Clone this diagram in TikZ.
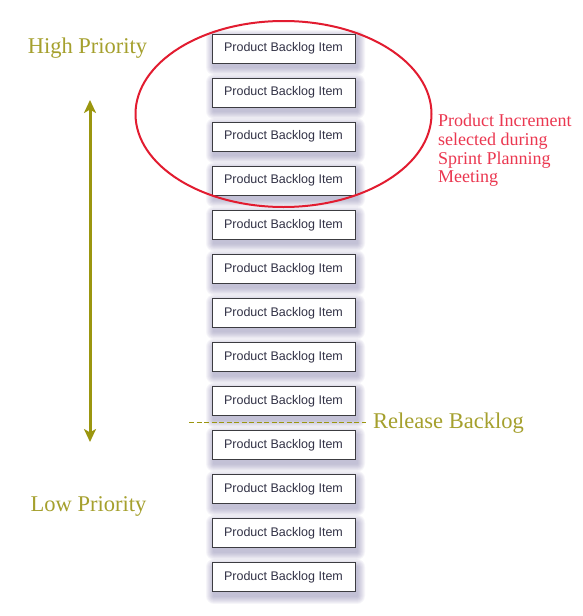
\documentclass[tikz,border=0pt]{standalone}
\usepackage{fontspec}
\setmainfont{Liberation Serif}
\newfontfamily\boxfont{Liberation Sans}
\usetikzlibrary{arrows.meta}
\definecolor{olivearrow}{RGB}{155,150,15}
\definecolor{olivetext}{RGB}{165,160,45}
\definecolor{ellred}{RGB}{226,28,48}
\definecolor{redtext}{RGB}{235,55,80}
\definecolor{boxtext}{RGB}{50,50,70}
\definecolor{boxline}{RGB}{60,60,65}
\definecolor{shadowcol}{RGB}{120,115,165}
\tikzset{
  pbi/.style={draw=boxline, line width=1pt, fill=white, minimum width=143pt, minimum height=29pt,
    inner sep=0pt, font=\boxfont\fontsize{12.5}{14}\selectfont, text=boxtext},
  lbl/.style={font=\fontsize{22.5}{26}\selectfont, text=olivetext, inner sep=0pt},
}
\begin{document}
\begin{tikzpicture}[x=1pt,y=-1pt]
\useasboundingbox (0,0) rectangle (582,616);
\fill[white] (0,0) rectangle (582,616);
% shadows
\foreach \i in {0,...,12}{
  \pgfmathsetmacro{\yc}{48.5+44.08*\i}
  \foreach \k in {1,...,8}{
    \pgfmathsetmacro{\ex}{9-\k}
    \fill[shadowcol, opacity=0.065, rounded corners=\ex pt]
      ({283.5-71.5+2-\ex},{\yc-14.5+4-\ex}) rectangle ({283.5+71.5+2+\ex},{\yc+14.5+4+\ex});
  }
}
% boxes
\foreach \i in {0,...,12}{
  \node[pbi] (b\i) at (283.5,{48.5+44.08*\i}) {Product Backlog Item};
}
% ellipse
\draw[ellred, line width=2pt] (283.5,114) ellipse [x radius=148, y radius=93];
\node[anchor=north west, inner sep=0pt, align=left, text=redtext,
  font=\fontsize{18}{18.7}\selectfont] (inc) at (438,114)
  {Product Increment\\selected during\\Sprint Planning\\Meeting};
% priorities
\node[lbl] (high) at (87.5,48.5) {High Priority};
\node[lbl] (low) at (88.5,506) {Low Priority};
\coordinate (atop) at (90,100);
\coordinate (abot) at (90,442);
\draw[olivearrow, line width=3pt, {Stealth[length=13pt,width=12pt,inset=3.5pt]}-{Stealth[length=13pt,width=12pt,inset=3.5pt]}] (atop) -- (abot);
% release line
\coordinate (rl) at (189,422.7);
\coordinate (rr) at (366,422.7);
\draw[olivearrow, line width=1.5pt, dash pattern=on 5pt off 2.5pt] (rl) -- (rr);
\node[lbl, anchor=west] (rel) at (373,423) {Release Backlog};
\end{tikzpicture}
\end{document}
